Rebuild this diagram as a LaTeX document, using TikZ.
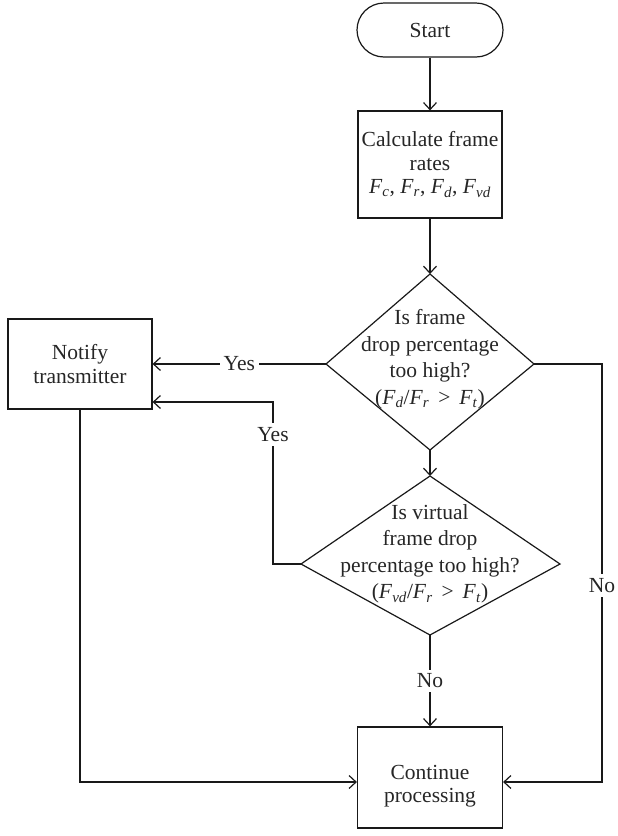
\documentclass[tikz,border=0pt]{standalone}
\usepackage{fontspec}
\setmainfont{Liberation Serif}
\usetikzlibrary{arrows.meta}
\newcommand{\Fv}[1]{\textit{F}\textsubscript{\textit{#1}}}
\begin{document}
\begin{tikzpicture}[x=1pt,y=-1pt,
  every node/.style={font=\fontsize{21.5}{23.5}\selectfont, text=black!85},
  line/.style={line width=1.2pt, draw=black!90},
  arr/.style={line, -{Straight Barb[length=7pt,width=13pt,line width=1.2pt]}},
  boxnode/.style={draw=black!90, line width=1.2pt, align=center, inner sep=0pt},
  lbl/.style={fill=white, inner sep=4pt},
  dtext/.style={align=center, font=\fontsize{21.5}{26.5}\selectfont}]
\useasboundingbox (0,0) rectangle (618,836);
% process nodes
\node[boxnode, rounded corners=27pt, minimum width=146pt, minimum height=54pt] (start) at (430,30) {Start};
\node[boxnode, minimum width=144pt, minimum height=107pt] (calc) at (430,164.5) {Calculate frame\\rates\\\Fv{c}, \Fv{r}, \Fv{d}, \Fv{vd}};
\node[boxnode, minimum width=144pt, minimum height=90pt] (notify) at (80,364) {Notify\\transmitter};
\node[boxnode, minimum width=145pt, minimum height=101pt] (cont) at (430,777.5) {};
\node (conttext) at (430,786) [align=center] {Continue\\processing};
% decision 1
\coordinate (d1t) at (430,274);
\coordinate (d1r) at (534,364);
\coordinate (d1b) at (430,450);
\coordinate (d1l) at (326,364);
\draw[line] (d1t) -- (d1r) -- (d1b) -- (d1l) -- cycle;
\node[dtext] (d1) at (430,359) {Is frame\\drop percentage\\too high?\\(\Fv{d}/\Fv{r} \,>\, \Fv{t})};
% decision 2
\coordinate (d2t) at (430,476);
\coordinate (d2r) at (560,564);
\coordinate (d2b) at (430,635);
\coordinate (d2l) at (301,564);
\draw[line] (d2t) -- (d2r) -- (d2b) -- (d2l) -- cycle;
\node[dtext] (d2) at (430,554) {Is virtual\\frame drop\\percentage too high?\\(\Fv{vd}/\Fv{r} \,>\, \Fv{t})};
% bend points
\coordinate (ya) at (273,564);
\coordinate (yb) at (273,402);
\coordinate (na) at (602,364);
\coordinate (nb) at (602,782);
\coordinate (lb) at (80,782);
% connectors
\draw[arr] (start) -- (calc);
\draw[arr] (calc) -- (d1t);
\draw[arr] (d1b) -- (d2t);
\draw[arr] (d1l) -- node[lbl]{Yes} (notify.east |- d1l);
\draw[arr] (d2l) -- (ya) -- node[lbl, pos=0.8]{Yes} (yb) -- (notify.east |- yb);
\draw[arr] (d1r) -- (na) -- node[lbl, pos=0.53]{No} (nb) -- (cont.east |- nb);
\draw[arr] (d2b) -- node[lbl]{No} (cont);
\draw[arr] (notify) -- (lb) -- (cont.west |- lb);
\end{tikzpicture}
\end{document}
